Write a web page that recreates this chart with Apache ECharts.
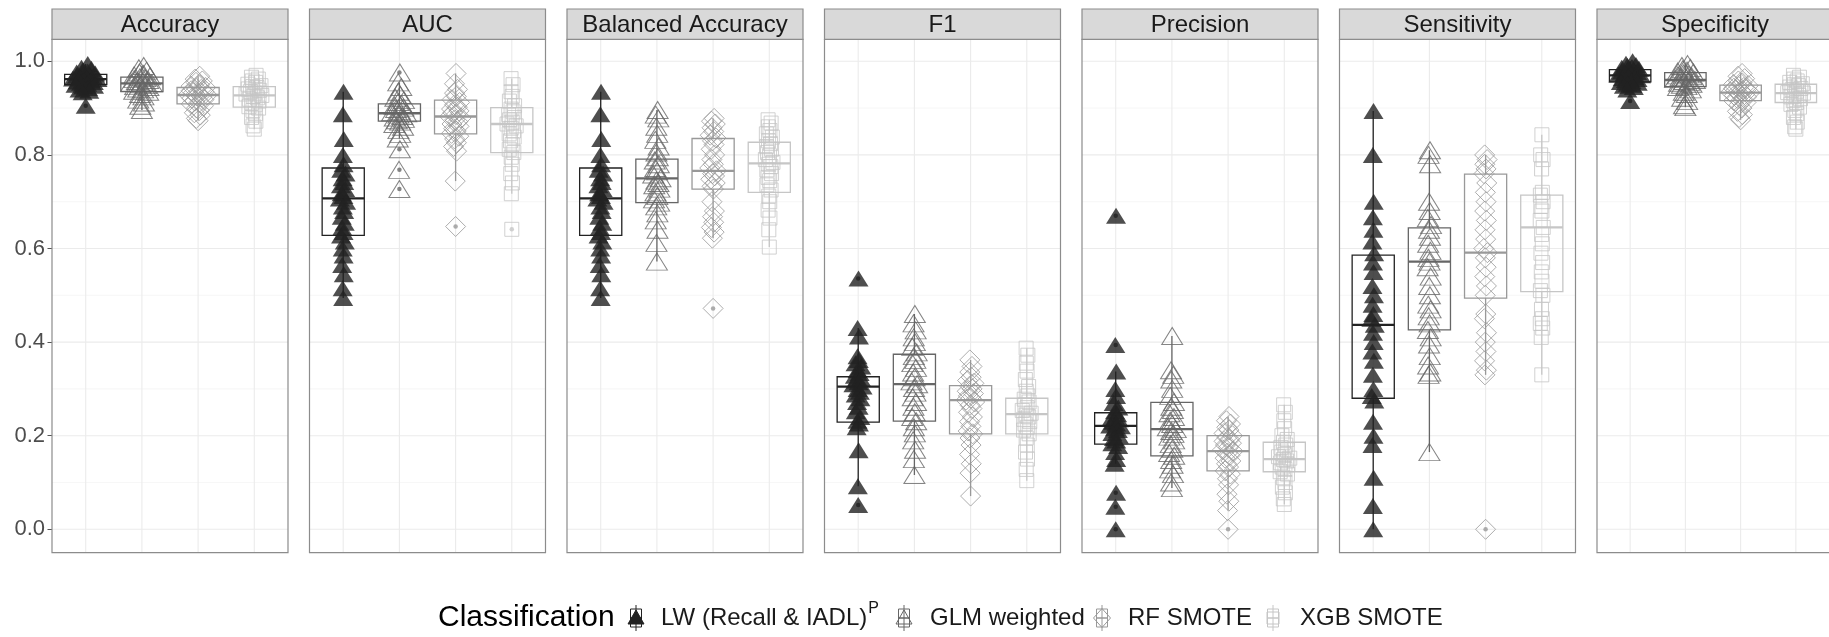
<!DOCTYPE html>
<html>
<head>
<meta charset="utf-8">
<script src="https://cdn.jsdelivr.net/npm/echarts@6/dist/echarts.min.js"></script>
<style>
  html, body { margin: 0; padding: 0; background: #ffffff; }
  #chart { width: 1829px; height: 637px; }
</style>
</head>
<body>
<div id="chart"></div>
<script>
// ---- facets, models and axis ticks ----
const metrics = ['Accuracy', 'AUC', 'Balanced Accuracy', 'F1', 'Precision', 'Sensitivity', 'Specificity'];
const models = ['LW (Recall & IADL)', 'GLM weighted', 'RF SMOTE', 'XGB SMOTE'];
const modelSuperscript = ['P', '', '', ''];
const yTickValues = [0, 0.2, 0.4, 0.6, 0.8, 1.0];
const yMinorValues = [0.1, 0.3, 0.5, 0.7, 0.9];

// ---- per-fold scores ----
const accuracyLW  = [0.994, 0.986, 0.984, 0.981, 0.978, 0.976, 0.974, 0.972, 0.970, 0.969, 0.967, 0.966, 0.964, 0.963, 0.962, 0.960, 0.959, 0.957, 0.956, 0.954, 0.952, 0.950, 0.948, 0.946, 0.943, 0.940, 0.937, 0.934, 0.905];
const accuracyGLM = [0.990, 0.985, 0.980, 0.976, 0.973, 0.970, 0.968, 0.966, 0.964, 0.962, 0.960, 0.958, 0.956, 0.954, 0.953, 0.951, 0.949, 0.947, 0.945, 0.942, 0.940, 0.937, 0.935, 0.930, 0.925, 0.918, 0.912, 0.905, 0.896];
const accuracyRF  = [0.968, 0.962, 0.958, 0.955, 0.950, 0.947, 0.944, 0.942, 0.940, 0.937, 0.935, 0.933, 0.931, 0.929, 0.928, 0.926, 0.924, 0.921, 0.918, 0.915, 0.912, 0.909, 0.905, 0.900, 0.895, 0.890, 0.885, 0.878, 0.873];
const accuracyXGB = [0.970, 0.966, 0.962, 0.958, 0.955, 0.951, 0.948, 0.946, 0.944, 0.941, 0.938, 0.935, 0.932, 0.930, 0.927, 0.925, 0.922, 0.919, 0.915, 0.911, 0.907, 0.903, 0.900, 0.895, 0.888, 0.880, 0.872, 0.862, 0.855];

const aucLW  = [0.935, 0.887, 0.834, 0.800, 0.780, 0.768, 0.760, 0.750, 0.742, 0.735, 0.727, 0.718, 0.712, 0.707, 0.700, 0.690, 0.680, 0.668, 0.655, 0.645, 0.635, 0.628, 0.615, 0.600, 0.585, 0.565, 0.545, 0.515, 0.494];
const aucGLM = [0.976, 0.955, 0.945, 0.935, 0.928, 0.922, 0.917, 0.913, 0.909, 0.905, 0.901, 0.898, 0.894, 0.891, 0.889, 0.886, 0.883, 0.880, 0.877, 0.874, 0.871, 0.866, 0.860, 0.853, 0.845, 0.835, 0.812, 0.768, 0.727];
const aucRF  = [0.974, 0.952, 0.940, 0.932, 0.925, 0.918, 0.912, 0.907, 0.902, 0.898, 0.894, 0.890, 0.886, 0.882, 0.879, 0.875, 0.871, 0.866, 0.861, 0.856, 0.851, 0.846, 0.840, 0.834, 0.826, 0.818, 0.808, 0.744, 0.647];
const aucXGB = [0.963, 0.950, 0.935, 0.925, 0.915, 0.905, 0.898, 0.892, 0.886, 0.880, 0.875, 0.870, 0.866, 0.862, 0.857, 0.851, 0.845, 0.838, 0.830, 0.822, 0.812, 0.805, 0.795, 0.780, 0.760, 0.740, 0.717, 0.641];

const balancedLW  = [0.935, 0.887, 0.834, 0.800, 0.780, 0.768, 0.760, 0.750, 0.742, 0.735, 0.727, 0.718, 0.712, 0.707, 0.700, 0.690, 0.680, 0.668, 0.655, 0.645, 0.635, 0.628, 0.615, 0.600, 0.585, 0.565, 0.545, 0.515, 0.494];
const balancedGLM = [0.896, 0.886, 0.878, 0.860, 0.845, 0.832, 0.818, 0.805, 0.795, 0.788, 0.780, 0.772, 0.765, 0.758, 0.750, 0.745, 0.740, 0.735, 0.728, 0.720, 0.712, 0.705, 0.698, 0.690, 0.675, 0.660, 0.640, 0.612, 0.572];
const balancedRF  = [0.878, 0.872, 0.866, 0.858, 0.850, 0.842, 0.836, 0.830, 0.822, 0.812, 0.800, 0.790, 0.780, 0.772, 0.766, 0.760, 0.755, 0.748, 0.740, 0.733, 0.727, 0.700, 0.680, 0.668, 0.656, 0.645, 0.635, 0.622, 0.472];
const balancedXGB = [0.875, 0.868, 0.860, 0.852, 0.845, 0.838, 0.830, 0.824, 0.818, 0.812, 0.805, 0.798, 0.790, 0.784, 0.780, 0.775, 0.768, 0.760, 0.752, 0.745, 0.736, 0.725, 0.712, 0.700, 0.682, 0.665, 0.640, 0.603];

const f1LW  = [0.536, 0.430, 0.412, 0.370, 0.362, 0.355, 0.348, 0.340, 0.334, 0.328, 0.322, 0.318, 0.314, 0.310, 0.305, 0.300, 0.294, 0.288, 0.280, 0.272, 0.262, 0.252, 0.240, 0.232, 0.226, 0.218, 0.169, 0.092, 0.052];
const f1GLM = [0.460, 0.440, 0.425, 0.410, 0.400, 0.390, 0.378, 0.370, 0.362, 0.355, 0.345, 0.335, 0.325, 0.316, 0.310, 0.302, 0.292, 0.282, 0.272, 0.262, 0.250, 0.240, 0.231, 0.218, 0.205, 0.190, 0.170, 0.150, 0.116];
const f1RF  = [0.362, 0.348, 0.336, 0.325, 0.318, 0.312, 0.306, 0.300, 0.295, 0.290, 0.285, 0.280, 0.276, 0.272, 0.265, 0.258, 0.250, 0.240, 0.230, 0.220, 0.210, 0.204, 0.195, 0.180, 0.160, 0.140, 0.120, 0.071];
const f1XGB = [0.387, 0.372, 0.355, 0.338, 0.320, 0.305, 0.295, 0.285, 0.278, 0.272, 0.266, 0.260, 0.254, 0.248, 0.244, 0.240, 0.235, 0.230, 0.225, 0.218, 0.212, 0.204, 0.195, 0.180, 0.165, 0.150, 0.128, 0.104];

const precisionLW  = [0.670, 0.394, 0.337, 0.300, 0.285, 0.270, 0.260, 0.252, 0.246, 0.240, 0.235, 0.230, 0.226, 0.222, 0.220, 0.216, 0.212, 0.206, 0.200, 0.195, 0.190, 0.184, 0.178, 0.165, 0.150, 0.140, 0.078, 0.048, 0.000];
const precisionGLM = [0.413, 0.340, 0.330, 0.320, 0.300, 0.285, 0.272, 0.262, 0.255, 0.248, 0.240, 0.232, 0.225, 0.218, 0.214, 0.210, 0.204, 0.198, 0.190, 0.182, 0.172, 0.163, 0.157, 0.148, 0.138, 0.128, 0.118, 0.100, 0.088];
const precisionRF  = [0.241, 0.232, 0.225, 0.218, 0.212, 0.205, 0.200, 0.196, 0.192, 0.188, 0.184, 0.180, 0.175, 0.170, 0.167, 0.163, 0.158, 0.152, 0.146, 0.140, 0.133, 0.125, 0.118, 0.108, 0.095, 0.075, 0.060, 0.040, 0.000];
const precisionXGB = [0.266, 0.250, 0.232, 0.215, 0.200, 0.192, 0.186, 0.180, 0.175, 0.170, 0.165, 0.160, 0.155, 0.152, 0.149, 0.146, 0.142, 0.138, 0.133, 0.128, 0.123, 0.118, 0.110, 0.100, 0.090, 0.078, 0.065, 0.053];

const sensitivityLW  = [0.894, 0.800, 0.700, 0.667, 0.640, 0.615, 0.590, 0.570, 0.550, 0.520, 0.500, 0.480, 0.460, 0.450, 0.437, 0.420, 0.400, 0.380, 0.360, 0.330, 0.300, 0.285, 0.275, 0.230, 0.200, 0.180, 0.110, 0.050, 0.000];
const sensitivityGLM = [0.810, 0.800, 0.780, 0.700, 0.680, 0.665, 0.650, 0.640, 0.625, 0.610, 0.595, 0.580, 0.572, 0.560, 0.540, 0.520, 0.500, 0.480, 0.470, 0.455, 0.440, 0.426, 0.410, 0.395, 0.370, 0.350, 0.335, 0.330, 0.165];
const sensitivityRF  = [0.800, 0.790, 0.780, 0.770, 0.760, 0.740, 0.720, 0.700, 0.680, 0.660, 0.640, 0.620, 0.600, 0.591, 0.580, 0.560, 0.540, 0.520, 0.500, 0.460, 0.450, 0.420, 0.400, 0.380, 0.360, 0.340, 0.330, 0.000];
const sensitivityXGB = [0.843, 0.800, 0.790, 0.770, 0.720, 0.714, 0.700, 0.690, 0.680, 0.660, 0.645, 0.630, 0.610, 0.590, 0.570, 0.550, 0.530, 0.510, 0.500, 0.470, 0.450, 0.440, 0.430, 0.410, 0.330];

const specificityLW  = [1.000, 0.995, 0.992, 0.990, 0.988, 0.986, 0.984, 0.982, 0.980, 0.978, 0.977, 0.975, 0.973, 0.972, 0.970, 0.968, 0.966, 0.964, 0.962, 0.960, 0.958, 0.956, 0.954, 0.952, 0.950, 0.948, 0.945, 0.940, 0.915];
const specificityGLM = [0.994, 0.990, 0.986, 0.983, 0.980, 0.978, 0.976, 0.974, 0.972, 0.970, 0.968, 0.966, 0.964, 0.962, 0.960, 0.958, 0.956, 0.954, 0.952, 0.950, 0.947, 0.945, 0.940, 0.935, 0.930, 0.922, 0.915, 0.906, 0.902];
const specificityRF  = [0.974, 0.968, 0.963, 0.958, 0.954, 0.950, 0.948, 0.946, 0.944, 0.942, 0.940, 0.938, 0.936, 0.934, 0.933, 0.931, 0.929, 0.927, 0.924, 0.921, 0.918, 0.916, 0.912, 0.907, 0.900, 0.893, 0.886, 0.880, 0.875];
const specificityXGB = [0.970, 0.966, 0.962, 0.958, 0.955, 0.952, 0.950, 0.948, 0.945, 0.942, 0.939, 0.936, 0.933, 0.932, 0.930, 0.927, 0.924, 0.920, 0.916, 0.912, 0.908, 0.902, 0.895, 0.888, 0.880, 0.870, 0.860, 0.855];

// ---- box hinges per model: [lower quartile, median, upper quartile] ----
const accuracyBox    = [[0.950, 0.962, 0.972], [0.935, 0.953, 0.966], [0.909, 0.928, 0.944], [0.902, 0.927, 0.946]];
const aucBox         = [[0.628, 0.707, 0.772], [0.872, 0.889, 0.909], [0.845, 0.882, 0.917], [0.805, 0.866, 0.901]];
const balancedBox    = [[0.628, 0.707, 0.772], [0.698, 0.750, 0.791], [0.727, 0.766, 0.835], [0.720, 0.782, 0.827]];
const f1Box          = [[0.229, 0.305, 0.326], [0.231, 0.310, 0.374], [0.204, 0.276, 0.307], [0.204, 0.246, 0.280]];
const precisionBox   = [[0.182, 0.221, 0.249], [0.157, 0.214, 0.271], [0.125, 0.167, 0.200], [0.123, 0.150, 0.186]];
const sensitivityBox = [[0.280, 0.437, 0.586], [0.426, 0.572, 0.644], [0.494, 0.591, 0.759], [0.508, 0.645, 0.714]];
const specificityBox = [[0.956, 0.970, 0.982], [0.946, 0.960, 0.976], [0.916, 0.933, 0.949], [0.912, 0.932, 0.951]];

const scoresByMetric = [
  [accuracyLW, accuracyGLM, accuracyRF, accuracyXGB],
  [aucLW, aucGLM, aucRF, aucXGB],
  [balancedLW, balancedGLM, balancedRF, balancedXGB],
  [f1LW, f1GLM, f1RF, f1XGB],
  [precisionLW, precisionGLM, precisionRF, precisionXGB],
  [sensitivityLW, sensitivityGLM, sensitivityRF, sensitivityXGB],
  [specificityLW, specificityGLM, specificityRF, specificityXGB]
];
const boxesByMetric = [accuracyBox, aucBox, balancedBox, f1Box, precisionBox, sensitivityBox, specificityBox];

// ---- styling ----
const FONT = '"Liberation Sans", Arial, Helvetica, sans-serif';
const modelColors = ['#222222', '#666666', '#999999', '#c6c6c6'];
const modelSymbols = ['triangle', 'triangle', 'diamond', 'rect'];
const modelSymbolSizes = [[20, 16], [21, 17], [20, 20], [14, 14]];
const modelFilled = [true, false, false, false];

const PANEL_LEFT0 = 52, PANEL_STEP = 257.5, PANEL_W = 236;
const PANEL_TOP = 39.3, PANEL_H = 513.4;
const STRIP_TOP = 9, STRIP_H = 30.3;
const Y_MIN = -0.05, Y_MAX = 1.047;
const X_MIN = 0.4, X_MAX = 4.6;
const BOX_WIDTH = 0.75;
const FRAME_COLOR = '#8c8c8c';

// ---- box statistics: whiskers reach the furthest score within 1.5 IQR ----
function boxSummary(vals, hinges) {
  const [q1, med, q3] = hinges;
  const iqr = q3 - q1;
  const lo = q1 - 1.5 * iqr, hi = q3 + 1.5 * iqr;
  const inside = vals.filter(v => v >= lo && v <= hi);
  return {
    q1, med, q3,
    wLo: Math.min(q1, ...inside),
    wHi: Math.max(q3, ...inside),
    outliers: vals.filter(v => v < lo || v > hi)
  };
}

// ---- quasirandom horizontal spread, wider where scores are dense ----
const BANDWIDTH = 0.015, SPREAD = 0.24;
function kde(vals, y) {
  let s = 0;
  for (const v of vals) { const z = (y - v) / BANDWIDTH; s += Math.exp(-0.5 * z * z); }
  return s;
}
function vanDerCorput(n) {
  let v = 0, d = 1;
  while (n > 0) { d *= 2; v += (n % 2) / d; n = Math.floor(n / 2); }
  return v;
}
let maxDensity = 0;
scoresByMetric.forEach(groups => groups.forEach(vals => vals.forEach(v => {
  maxDensity = Math.max(maxDensity, kde(vals, v));
})));
function spreadOffsets(vals) {
  const order = vals.map((v, i) => i).sort((a, b) => vals[a] - vals[b]);
  const off = new Array(vals.length);
  order.forEach((idx, r) => {
    off[idx] = (vanDerCorput(r + 1) * 2 - 1) * SPREAD * kde(vals, vals[idx]) / maxDensity;
  });
  return off;
}

// ---- renderers ----
function renderGridLine(params, api) {
  const cs = params.coordSys;
  const horizontal = api.value(0) === 0;
  const val = api.value(1);
  const major = api.value(2) === 1;
  let shape;
  if (horizontal) {
    const y = api.coord([1, val])[1];
    shape = { x1: cs.x, y1: y, x2: cs.x + cs.width, y2: y };
  } else {
    const x = api.coord([val, 0])[0];
    shape = { x1: x, y1: cs.y, x2: x, y2: cs.y + cs.height };
  }
  return {
    type: 'line', shape, silent: true,
    style: { stroke: major ? '#ebebeb' : '#f2f2f2', lineWidth: major ? 1.1 : 0.7 }
  };
}

function renderBox(params, api) {
  const cat = api.value(0);
  const color = modelColors[api.value(6)];
  const half = api.size([BOX_WIDTH, 0])[0] / 2;
  const cx = api.coord([cat, api.value(1)])[0];
  const yQ1 = api.coord([cat, api.value(1)])[1];
  const yMed = api.coord([cat, api.value(2)])[1];
  const yQ3 = api.coord([cat, api.value(3)])[1];
  const yLo = api.coord([cat, api.value(4)])[1];
  const yHi = api.coord([cat, api.value(5)])[1];
  const lw = 1.3;
  return {
    type: 'group', silent: true,
    children: [
      { type: 'line', shape: { x1: cx, y1: yHi, x2: cx, y2: yQ3 }, style: { stroke: color, lineWidth: lw } },
      { type: 'line', shape: { x1: cx, y1: yQ1, x2: cx, y2: yLo }, style: { stroke: color, lineWidth: lw } },
      { type: 'rect', shape: { x: cx - half, y: yQ3, width: 2 * half, height: yQ1 - yQ3 }, style: { fill: 'none', stroke: color, lineWidth: lw } },
      { type: 'line', shape: { x1: cx - half, y1: yMed, x2: cx + half, y2: yMed }, style: { stroke: color, lineWidth: 2.3 } }
    ]
  };
}

// ---- build option ----
const grids = [], xAxes = [], yAxes = [], series = [], graphics = [];

metrics.forEach((metric, p) => {
  const left = PANEL_LEFT0 + p * PANEL_STEP;
  grids.push({ left, top: PANEL_TOP, width: PANEL_W, height: PANEL_H, show: false });
  xAxes.push({ gridIndex: p, type: 'value', min: X_MIN, max: X_MAX, show: false });
  yAxes.push({
    gridIndex: p, type: 'value', min: Y_MIN, max: Y_MAX,
    axisLine: { show: false },
    splitLine: { show: false },
    axisTick: p === 0
      ? { show: true, customValues: yTickValues, length: 4.5, lineStyle: { color: '#555555', width: 1 } }
      : { show: false },
    axisLabel: p === 0
      ? { show: true, customValues: yTickValues, formatter: v => v.toFixed(1), color: '#4d4d4d',
          fontSize: 22, fontFamily: FONT, margin: 7 }
      : { show: false }
  });

  // background grid lines
  const gridData = [];
  yMinorValues.forEach(v => gridData.push([0, v, 0]));
  yTickValues.forEach(v => gridData.push([0, v, 1]));
  models.forEach((m, i) => gridData.push([1, i + 1, 1]));
  series.push({
    type: 'custom', xAxisIndex: p, yAxisIndex: p, silent: true, z: 1,
    renderItem: renderGridLine, data: gridData
  });

  // boxes and outlier dots
  const boxData = [], outlierData = [];
  models.forEach((m, i) => {
    const s = boxSummary(scoresByMetric[p][i], boxesByMetric[p][i]);
    boxData.push([i + 1, s.q1, s.med, s.q3, s.wLo, s.wHi, i]);
    s.outliers.forEach(v => outlierData.push([i + 1, v, i]));
  });
  series.push({
    type: 'custom', xAxisIndex: p, yAxisIndex: p, silent: true, z: 2,
    renderItem: renderBox, data: boxData
  });
  series.push({
    type: 'scatter', xAxisIndex: p, yAxisIndex: p, silent: true, z: 3,
    symbol: 'circle', symbolSize: 4.5,
    itemStyle: { color: params => modelColors[params.data[2]] },
    data: outlierData
  });

  // individual scores
  models.forEach((m, i) => {
    const vals = scoresByMetric[p][i];
    const off = spreadOffsets(vals);
    const color = modelColors[i];
    series.push({
      type: 'scatter', xAxisIndex: p, yAxisIndex: p, silent: true, z: 4,
      symbol: modelSymbols[i], symbolSize: modelSymbolSizes[i],
      itemStyle: modelFilled[i]
        ? { color, borderWidth: 0 }
        : { color: 'rgba(0,0,0,0)', borderColor: color, borderWidth: 1 },
      data: vals.map((v, k) => [i + 1 + off[k], v])
    });
  });

  // panel frame and strip
  graphics.push({
    type: 'rect', silent: true, z: 100,
    shape: { x: left, y: PANEL_TOP, width: PANEL_W, height: PANEL_H },
    style: { fill: 'none', stroke: FRAME_COLOR, lineWidth: 1.2 }
  });
  graphics.push({
    type: 'rect', silent: true, z: 100,
    shape: { x: left, y: STRIP_TOP, width: PANEL_W, height: STRIP_H },
    style: { fill: '#d9d9d9', stroke: FRAME_COLOR, lineWidth: 1.2 }
  });
  graphics.push({
    type: 'text', silent: true, z: 101,
    x: left + PANEL_W / 2, y: STRIP_TOP + STRIP_H / 2 + 1,
    style: {
      text: metric, font: '24px ' + FONT, fill: '#1a1a1a',
      align: 'center', verticalAlign: 'middle', textAlign: 'center', textVerticalAlign: 'middle'
    }
  });
});

// ---- legend ----
const LEGEND_Y = 618;
const legendKeyX = [636, 904, 1102, 1273];
const legendLabelX = [661, 930, 1128, 1300];
graphics.push({
  type: 'text', silent: true, z: 101, x: 438, y: LEGEND_Y,
  style: { text: 'Classification', font: '30px ' + FONT, fill: '#000000',
           align: 'left', verticalAlign: 'middle', textAlign: 'left', textVerticalAlign: 'middle' }
});
const measureCtx = document.createElement('canvas').getContext('2d');
measureCtx.font = '24px ' + FONT;

function legendShape(i, cx, cy) {
  const color = modelColors[i];
  const style = modelFilled[i]
    ? { fill: color, stroke: color, lineWidth: 1 }
    : { fill: 'none', stroke: color, lineWidth: 1 };
  if (modelSymbols[i] === 'triangle') {
    const w = 16, h = 14;
    return { type: 'polygon', silent: true, z: 103,
      shape: { points: [[cx, cy - h / 2 - 1], [cx + w / 2, cy + h / 2 - 1], [cx - w / 2, cy + h / 2 - 1]] }, style };
  }
  if (modelSymbols[i] === 'diamond') {
    const w = 17, h = 19;
    return { type: 'polygon', silent: true, z: 103,
      shape: { points: [[cx, cy - h / 2], [cx + w / 2, cy], [cx, cy + h / 2], [cx - w / 2, cy]] }, style };
  }
  const s = 12;
  return { type: 'rect', silent: true, z: 103, shape: { x: cx - s / 2, y: cy - s / 2, width: s, height: s }, style };
}

models.forEach((m, i) => {
  const cx = legendKeyX[i], cy = LEGEND_Y, color = modelColors[i];
  // boxplot glyph behind the point glyph
  graphics.push({ type: 'line', silent: true, z: 102,
    shape: { x1: cx, y1: cy - 13, x2: cx, y2: cy + 13 }, style: { stroke: color, lineWidth: 1 } });
  graphics.push({ type: 'rect', silent: true, z: 102,
    shape: { x: cx - 5.5, y: cy - 9, width: 11, height: 18 }, style: { fill: 'none', stroke: color, lineWidth: 1 } });
  graphics.push({ type: 'line', silent: true, z: 102,
    shape: { x1: cx - 5.5, y1: cy, x2: cx + 5.5, y2: cy }, style: { stroke: color, lineWidth: 1.5 } });
  graphics.push(legendShape(i, cx, cy));
  // label
  graphics.push({
    type: 'text', silent: true, z: 101, x: legendLabelX[i], y: LEGEND_Y,
    style: { text: m, font: '24px ' + FONT, fill: '#1a1a1a',
             align: 'left', verticalAlign: 'middle', textAlign: 'left', textVerticalAlign: 'middle' }
  });
  if (modelSuperscript[i]) {
    const w = measureCtx.measureText(m).width;
    graphics.push({
      type: 'text', silent: true, z: 101, x: legendLabelX[i] + w + 1, y: LEGEND_Y - 9,
      style: { text: modelSuperscript[i], font: '16px ' + FONT, fill: '#1a1a1a',
               align: 'left', verticalAlign: 'middle', textAlign: 'left', textVerticalAlign: 'middle' }
    });
  }
});

const chart = echarts.init(document.getElementById('chart'), null, { renderer: 'canvas' });
chart.setOption({
  backgroundColor: '#ffffff',
  animation: false,
  grid: grids,
  xAxis: xAxes,
  yAxis: yAxes,
  series: series,
  graphic: { elements: graphics }
});
</script>
</body>
</html>
